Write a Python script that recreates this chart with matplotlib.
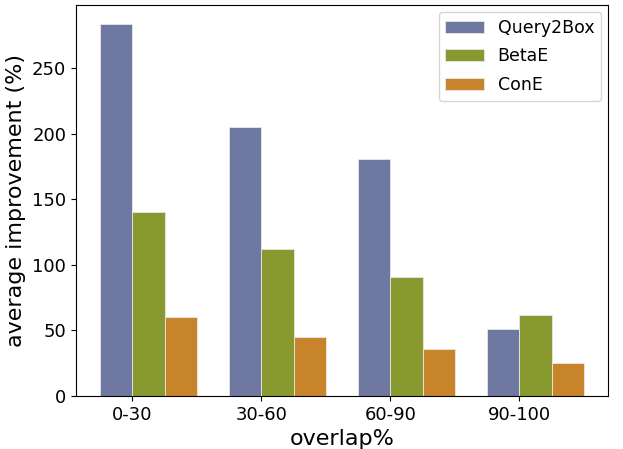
import matplotlib
matplotlib.use('Agg')
import matplotlib.pyplot as plt
import numpy as np

groups = ['0-30', '30-60', '60-90', '90-100']
query2box = [284, 205, 181, 51]
betae = [140, 112, 91, 62]
cone = [60, 45, 36, 25]

x = np.arange(len(groups))
w = 0.25

fig = plt.figure(figsize=(6.23, 4.49), dpi=100)
ax = fig.add_axes([0.122, 0.118, 0.854, 0.871])

ax.bar(x - w, query2box, w, align='edge', color='#6e78a0', edgecolor='#e8e8e8', linewidth=0.6, label='Query2Box')
ax.bar(x, betae, w, align='edge', color='#889a2f', edgecolor='#e8e8e8', linewidth=0.6, label='BetaE')
ax.bar(x + w, cone, w, align='edge', color='#c8842a', edgecolor='#e8e8e8', linewidth=0.6, label='ConE')

ax.set_xticks(x)
ax.set_xticklabels(groups)
ax.tick_params(labelsize=13)
ax.set_xlabel('overlap%', fontsize=16)
ax.set_ylabel('average improvement (%)', fontsize=16)
ax.legend(fontsize=12.5, handlelength=2.2, borderaxespad=0.4, labelspacing=0.6)

fig.savefig('out.png')
